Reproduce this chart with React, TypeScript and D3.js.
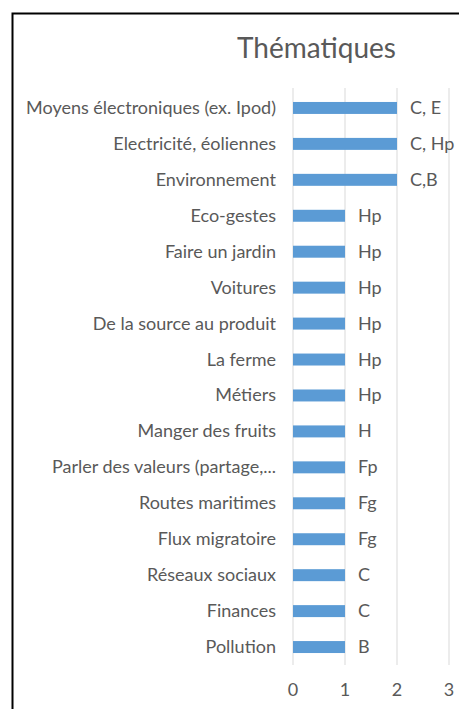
import React from "react";
import * as d3 from "d3";

const categories = [
  "Moyens électroniques (ex. Ipod)",
  "Electricité, éoliennes",
  "Environnement",
  "Eco-gestes",
  "Faire un jardin",
  "Voitures",
  "De la source au produit",
  "La ferme",
  "Métiers",
  "Manger des fruits",
  "Parler des valeurs (partage,...",
  "Routes maritimes",
  "Flux migratoire",
  "Réseaux sociaux",
  "Finances",
  "Pollution",
];
const values = [2, 2, 2, 1, 1, 1, 1, 1, 1, 1, 1, 1, 1, 1, 1, 1];
const dataLabels = ["C, E", "C, Hp", "C,B", "Hp", "Hp", "Hp", "Hp", "Hp", "Hp", "H", "Fp", "Fg", "Fg", "C", "C", "B"];
const ticks = [0, 1, 2, 3];

export default function App() {
  const W = 459, H = 709;
  const x = d3.scaleLinear().domain([0, 3]).range([293, 449]);
  const y = d3.scaleBand().domain(categories).range([90, 665]).paddingInner(0.667).paddingOuter(0.333);
  const font = "Lato, 'Open Sans', sans-serif";
  const txt = "#595959";
  return (
    <svg width={W} height={H} style={{ position: "absolute", left: 0, top: 0, background: "#fff" }}>
      <rect x={0} y={0} width={W} height={H} fill="#fff" />
      <path d={`M12.5,${H + 5} V13.5 H${W + 5}`} fill="none" stroke="#000" strokeWidth={2} />
      <text x={316.5} y={58} textAnchor="middle" fontFamily={font} fontSize={28} fill={txt}>
        Thématiques
      </text>
      {ticks.map((t) => (
        <line key={"g" + t} x1={x(t)} x2={x(t)} y1={88} y2={665} stroke="#d9d9d9" strokeWidth={1} />
      ))}
      {categories.map((c, i) => {
        const yy = y(c)!;
        const bw = y.bandwidth();
        return (
          <g key={c}>
            <rect x={x(0)} y={yy} width={x(values[i]) - x(0)} height={bw} fill="#5b9bd5" />
            <text x={276} y={yy + bw / 2 + 6} textAnchor="end" fontFamily={font} fontSize={18} fill={txt}>
              {c}
            </text>
            <text x={x(values[i]) + 13} y={yy + bw / 2 + 6} fontFamily={font} fontSize={18} fill={txt}>
              {dataLabels[i]}
            </text>
          </g>
        );
      })}
      {ticks.map((t) => (
        <text key={"t" + t} x={x(t)} y={696} textAnchor="middle" fontFamily={font} fontSize={18} fill={txt}>
          {t}
        </text>
      ))}
    </svg>
  );
}
